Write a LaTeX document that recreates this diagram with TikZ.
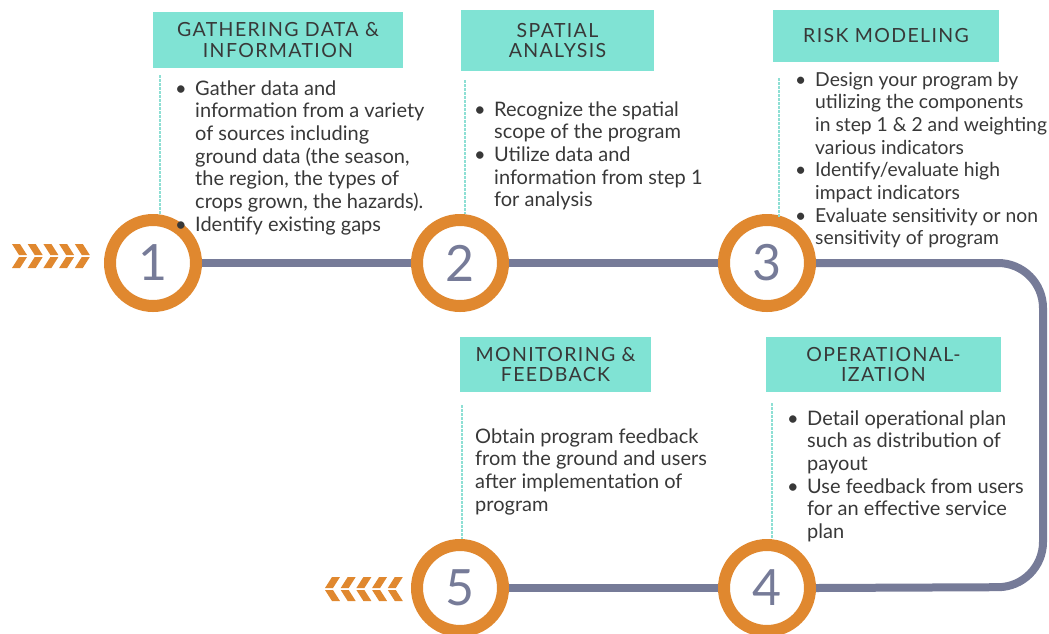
\documentclass[tikz,border=0pt]{standalone}
\usepackage{fontspec}
\setmainfont{Lato}
\newfontfamily\hdrfont[LetterSpace=7]{Lato}
\definecolor{ringorange}{HTML}{E0882F}
\definecolor{boxteal}{HTML}{80E3D4}
\definecolor{linteal}{HTML}{8EDFD4}
\definecolor{trackgray}{HTML}{767B98}
\definecolor{numgray}{HTML}{767B98}
\definecolor{txt}{HTML}{383838}
\newcommand{\bul}{\makebox[20pt][l]{\textbullet}}
\newcommand{\nob}{\makebox[20pt][l]{}}
\tikzset{
  hdr/.style={fill=boxteal, inner sep=0pt, align=center, text=txt,
    font=\hdrfont\fontsize{19.5}{20.5}\selectfont},
  body/.style={inner sep=0pt, anchor=base west, text=txt,
    font=\fontsize{20}{22.7}\selectfont},
  ring/.style={circle, draw=ringorange, line width=12pt, fill=white,
    minimum size=86pt, inner sep=0pt, text=numgray,
    font=\fontsize{50}{50}\selectfont},
  track/.style={draw=trackgray, line width=8pt},
  vline/.style={draw=linteal, line width=1.8pt, dash pattern=on 3pt off 1pt},
  chev/.style={fill=ringorange, draw=none}
}
\begin{document}
\begin{tikzpicture}[x=1pt,y=-1pt]
\useasboundingbox (0,0) rectangle (1049,633);
% header boxes
\node[hdr, minimum width=250pt, minimum height=56pt] (h1) at (278,40) {GATHERING DATA \&\\INFORMATION};
\node[hdr, minimum width=193pt, minimum height=61pt] (h2) at (557.5,40.5) {SPATIAL\\ANALYSIS};
\node[hdr, minimum width=226pt, minimum height=52pt] (h3) at (886,36) {RISK MODELING};
\node[hdr, minimum width=191pt, minimum height=55pt] (h5) at (555.5,364.5) {MONITORING \&\\FEEDBACK};
\node[hdr, minimum width=235pt, minimum height=55pt] (h4) at (883.5,364.5) {OPERATIONAL-\\IZATION};
% rings
\node[ring] (c1) at (153,263) {1};
\node[ring] (c2) at (460,263) {2};
\node[ring] (c3) at (767,263) {3};
\node[ring] (c4) at (767,588) {4};
\node[ring] (c5) at (460,588) {5};
\coordinate (tr) at (1043,263);
\coordinate (br) at (1043,587);
% track
\draw[track] (c1.east) -- (c2.west);
\draw[track] (c2.east) -- (c3.west);
\draw[track, rounded corners=45pt] (c3.east) -- (tr) -- (br) -- (c4.east);
\draw[track] (c4.west) -- (c5.east);
% vertical lines
\draw[vline] ([shift={(7,7)}]h1.south west) -- ([shift={(7,0)}]h1.south west |- c1.north);
\draw[vline] ([shift={(4,9)}]h2.south west) -- ([shift={(4,0)}]h2.south west |- c2.north);
\draw[vline] ([shift={(6,16)}]h3.south west) -- ([shift={(6,3)}]h3.south west |- c3.north);
\draw[vline] ([shift={(2,13)}]h5.south west) -- ([shift={(2,0)}]h5.south west |- c5.north);
\draw[vline] ([shift={(6,11)}]h4.south west) -- ([shift={(6,0)}]h4.south west |- c4.north);
% body texts
\node[body] (t1) at (175,95) {\begin{tabular}[t]{@{}l@{}}
\bul Gather data and\\
\nob information from a variety\\
\nob of sources including\\
\nob ground data (the season,\\
\nob the region, the types of\\
\nob crops grown, the hazards).\\
\bul Identify existing gaps
\end{tabular}};
\node[body] (t2) at (474,116) {\begin{tabular}[t]{@{}l@{}}
\bul Recognize the spatial\\
\nob scope of the program\\
\bul Utilize data and\\
\nob information from step 1\\
\nob for analysis
\end{tabular}};
\node[body, font=\fontsize{19.3}{22.7}\selectfont] (t3) at (795,86) {\begin{tabular}[t]{@{}l@{}}
\bul Design your program by\\
\nob utilizing the components\\
\nob in step 1 \& 2 and weighting\\
\nob various indicators\\
\bul Identify/evaluate high\\
\nob impact indicators\\
\bul Evaluate sensitivity or non\\
\nob sensitivity of program
\end{tabular}};
\node[body] (t5) at (475,443) {\begin{tabular}[t]{@{}l@{}}
Obtain program feedback\\
from the ground and users\\
after implementation of\\
program
\end{tabular}};
\node[body] (t4) at (787,425) {\begin{tabular}[t]{@{}l@{}}
\bul Detail operational plan\\
\nob such as distribution of\\
\nob payout\\
\bul Use feedback from users\\
\nob for an effective service\\
\nob plan
\end{tabular}};
% chevrons right-pointing
\foreach \i in {0,...,4} {
  \pgfmathsetmacro{\xo}{12+15.7*\i}
  \fill[chev] (\xo,244) -- (\xo+8,244) -- (\xo+15,255) -- (\xo+7,255) -- cycle;
  \fill[chev] (\xo+7,257) -- (\xo+15,257) -- (\xo+8,268) -- (\xo,268) -- cycle;
}
% chevrons left-pointing
\foreach \i in {0,...,4} {
  \pgfmathsetmacro{\xo}{325+15.7*\i}
  \fill[chev] (\xo+7,577) -- (\xo+15,577) -- (\xo+8,588) -- (\xo,588) -- cycle;
  \fill[chev] (\xo,590) -- (\xo+8,590) -- (\xo+15,601) -- (\xo+7,601) -- cycle;
}
\end{tikzpicture}
\end{document}
